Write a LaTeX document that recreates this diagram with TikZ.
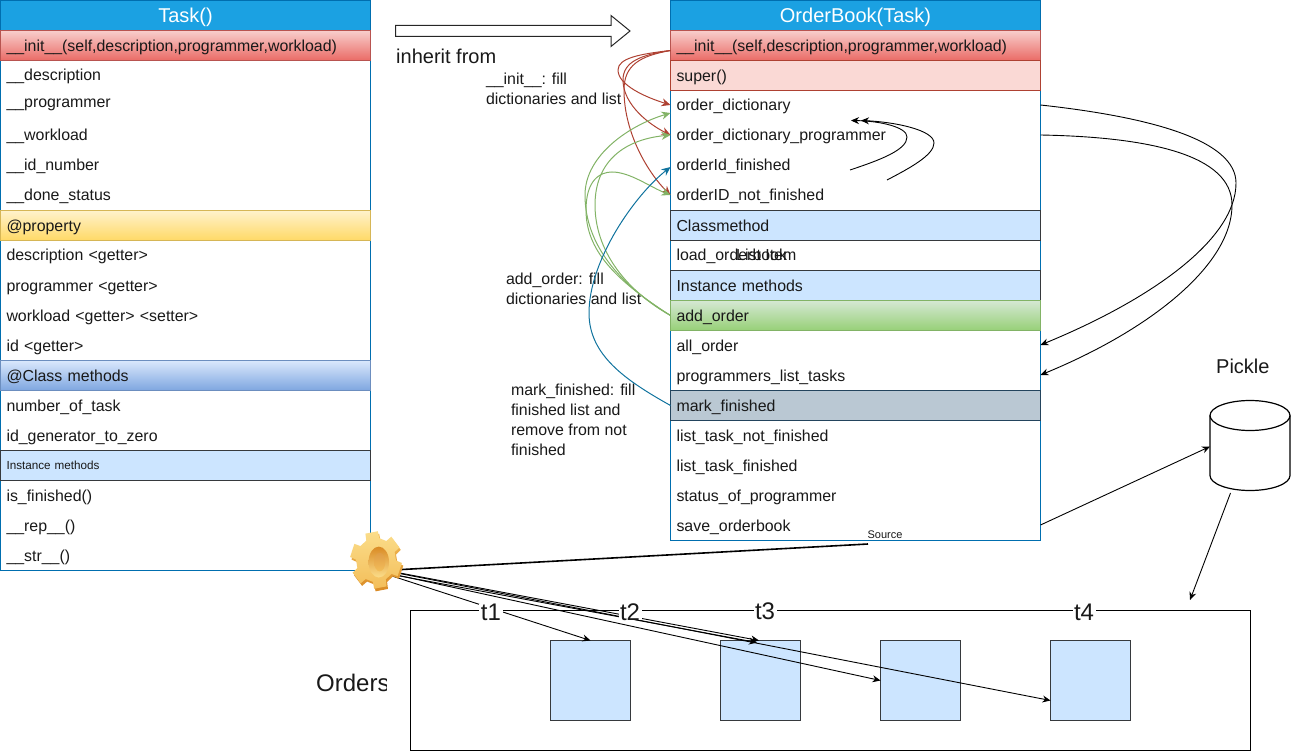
\documentclass[tikz,border=0pt]{standalone}
\usepackage{fontspec}
\setmainfont{Liberation Sans}
\usetikzlibrary{arrows.meta,calc}
\definecolor{hdfill}{HTML}{1BA1E2}
\definecolor{hdline}{HTML}{006EAF}
\definecolor{redtop}{HTML}{F8CECC}
\definecolor{redbot}{HTML}{EA6B66}
\definecolor{redline}{HTML}{B85450}
\definecolor{superfill}{HTML}{FAD9D5}
\definecolor{superline}{HTML}{AE4132}
\definecolor{yeltop}{HTML}{FFF2CC}
\definecolor{yelbot}{HTML}{FFD966}
\definecolor{yelline}{HTML}{D6B656}
\definecolor{blutop}{HTML}{DAE8FC}
\definecolor{blubot}{HTML}{7EA6E0}
\definecolor{bluline}{HTML}{6C8EBF}
\definecolor{instfill}{HTML}{CCE5FF}
\definecolor{instline}{HTML}{36393D}
\definecolor{grntop}{HTML}{D5E8D4}
\definecolor{grnbot}{HTML}{97D077}
\definecolor{grnline}{HTML}{82B366}
\definecolor{markfill}{HTML}{BAC8D3}
\definecolor{markline}{HTML}{23445D}
\definecolor{tealarrow}{HTML}{10739E}
\definecolor{gearlight}{HTML}{FBDD8A}
\definecolor{gearmid}{HTML}{F3BE5A}
\definecolor{geardark}{HTML}{D98A24}
\tikzset{
  rowbox/.style={anchor=north west,minimum width=370,minimum height=#1,text width=358,inner xsep=6,inner ysep=0,outer sep=0,align=left,font=\fontsize{15.9}{18}\selectfont,text=black!90,text height=13.5,text depth=1.5},
  rowbox/.default=30,
  outerbox/.style={draw=hdline,fill=white,line width=.8,anchor=north west,minimum width=370,outer sep=0,inner sep=0},
  head/.style={rowbox=30,draw=hdline,fill=hdfill,line width=.8,text=white,align=center,font=\fontsize{20}{22}\selectfont,text height=14.5,text depth=.5},
  initrow/.style={rowbox=30,draw=redline,top color=redtop,bottom color=redbot,line width=.8},
  superrow/.style={rowbox=30,draw=superline,fill=superfill,line width=.8},
  proprow/.style={rowbox=30,draw=yelline,top color=yeltop,bottom color=yelbot,line width=.8},
  classrow/.style={rowbox=30,draw=bluline,top color=blutop,bottom color=blubot,line width=.8},
  instrow/.style={rowbox=30,draw=instline,fill=instfill,line width=.8},
  addrow/.style={rowbox=30,draw=grnline,top color=grntop,bottom color=grnbot,line width=.8},
  markrow/.style={rowbox=30,draw=markline,fill=markfill,line width=.8},
  note/.style={anchor=north west,inner sep=0,outer sep=0,align=left,font=\fontsize{15.9}{20}\selectfont,text=black!90},
  bigtext/.style={inner sep=0,font=\fontsize{20}{22}\selectfont,text=black!90},
  tlabel/.style={fill=white,inner xsep=1.5,inner ysep=0,font=\fontsize{24}{26}\selectfont,text=black!90},
  slot/.style={draw=instline,fill=instfill,line width=.9,anchor=north west,minimum width=80,minimum height=80,inner sep=0,outer sep=0},
  arr/.style={-{Stealth[length=8,width=7]},line width=.9,black},
  redarr/.style={-{Stealth[length=9,width=8]},line width=1,superline},
  grnarr/.style={-{Stealth[length=9,width=8]},line width=1,grnline},
  bluarr/.style={-{Stealth[length=9,width=8]},line width=1,tealarrow},
}
\begin{document}
\begin{tikzpicture}[x=1pt,y=-1pt]
\useasboundingbox (0,0) rectangle (1292,751);
% Orders box
\node[draw=black,line width=.9,anchor=north west,minimum width=840,minimum height=140,inner sep=0,outer sep=0] (orders) at (410.5,610.5) {};
\begin{scope}
\clip (310,660) rectangle (386,710);
\node[inner sep=0,font=\fontsize{24}{26}\selectfont,text=black!90,anchor=west] (orderslabel) at (316,683) {Orders};
\end{scope}
\node[slot] (s1) at (550.5,640.5) {};
\node[slot] (s2) at (720.5,640.5) {};
\node[slot] (s3) at (880.5,640.5) {};
\node[slot] (s4) at (1050.5,640.5) {};
% Task class
\node[outerbox,minimum height=570] (taskbox) at (.5,.5) {};
\node[head] (taskhead) at (.5,.5) {Task()};
\node[initrow] (taskinit) at (.5,30.5) {\_\_init\_\_(self,description,programmer,workload)};
\node[rowbox] (t-desc) at (.5,60) {\_\_description};
\node[rowbox] (t-prog) at (.5,87) {\_\_programmer};
\node[rowbox] (t-work) at (.5,120) {\_\_workload};
\node[rowbox] (t-id) at (.5,150) {\_\_id\_number};
\node[rowbox] (t-done) at (.5,180) {\_\_done\_status};
\node[proprow] (t-property) at (.5,210.5) {@property};
\node[rowbox] (t-g1) at (.5,240) {description <getter>};
\node[rowbox] (t-g2) at (.5,270) {programmer <getter>};
\node[rowbox] (t-g3) at (.5,300) {workload <getter> <setter>};
\node[rowbox] (t-g4) at (.5,330) {id <getter>};
\node[classrow] (t-class) at (.5,360.5) {@Class methods};
\node[rowbox] (t-c1) at (.5,390) {number\_of\_task};
\node[rowbox] (t-c2) at (.5,420) {id\_generator\_to\_zero};
\node[instrow,font=\fontsize{11.7}{13}\selectfont,text height=9.5,text depth=2] (t-inst) at (.5,450.5) {Instance methods};
\node[rowbox] (t-i1) at (.5,480) {is\_finished()};
\node[rowbox] (t-i2) at (.5,510) {\_\_rep\_\_()};
\node[rowbox] (t-i3) at (.5,540) {\_\_str\_\_()};
% OrderBook class
\node[outerbox,minimum height=540] (obbox) at (670.5,.5) {};
\node[head] (obhead) at (670.5,.5) {OrderBook(Task)};
\node[initrow] (obinit) at (670.5,30.5) {\_\_init\_\_(self,description,programmer,workload)};
\node[superrow] (obsuper) at (670.5,60.5) {super()};
\node[rowbox] (odict) at (670.5,90) {order\_dictionary};
\node[rowbox] (odictp) at (670.5,120) {order\_dictionary\_programmer};
\node[rowbox] (ofin) at (670.5,150) {orderId\_finished};
\node[rowbox] (onot) at (670.5,180) {orderID\_not\_finished};
\node[instrow] (oclass) at (670.5,210.5) {Classmethod};
\node[rowbox] (oload) at (670.5,240) {load\_orderbook};
\node[inner sep=0,anchor=west,font=\fontsize{15.9}{18}\selectfont,text=black!90,text height=13.5,text depth=1.5] (olist) at (736,255) {List Item};
\node[instrow] (oinst) at (670.5,270.5) {Instance methods};
\node[addrow] (oadd) at (670.5,300.5) {add\_order};
\node[rowbox] (oall) at (670.5,330) {all\_order};
\node[rowbox] (oprog) at (670.5,360) {programmers\_list\_tasks};
\node[markrow] (omark) at (670.5,390.5) {mark\_finished};
\node[rowbox] (onf) at (670.5,420) {list\_task\_not\_finished};
\node[rowbox] (ofi) at (670.5,450) {list\_task\_finished};
\node[rowbox] (ostatus) at (670.5,480) {status\_of\_programmer};
\node[rowbox] (osave) at (670.5,510) {save\_orderbook};
% Block arrow
\coordinate (inhfrom) at (395.5,25.5);
\draw[line width=1,black!85] (inhfrom) -- ++(215.5,0) -- ++(0,-10) -- ++(19,15.5) -- ++(-19,15.5) -- ++(0,-10) -- ++(-215.5,0) -- cycle;
% Text labels
\node[bigtext,anchor=west] (inhlabel) at (396,56) {inherit from};
\node[note] (n1) at (486,73) {\_\_init\_\_: fill\\dictionaries and list};
\node[note] (n2) at (506,273) {add\_order: fill\\dictionaries and list};
\node[note] (n3) at (511,384) {mark\_finished: fill\\finished list and\\remove from not\\finished};
\node[bigtext,anchor=west] (pickle) at (1216,366) {Pickle};
% Red arrows
\coordinate (initout) at ($(obinit.west)+(0,5)$);
\draw[redarr] (initout) .. controls (640,54) and (618,58) .. (618,70) .. controls (618,85) and (645,97) .. (odict.west);
\draw[redarr] (initout) .. controls (640,55) and (623,62) .. (623,80) .. controls (623,105) and (650,125) .. (odictp.west);
\draw[redarr] (initout) .. controls (640,56) and (624,65) .. (624,90) .. controls (624,135) and (650,175) .. (onot.west);
% Green arrows
\draw[grnarr] (oadd.west) .. controls (620,285) and (585,245) .. (585,195) .. controls (585,155) and (630,125) .. ($(odict.west)+(0,8)$);
\draw[grnarr] (oadd.west) .. controls (625,290) and (595,250) .. (595,205) .. controls (595,165) and (620,140) .. (odictp.west);
\draw[grnarr] (oadd.west) .. controls (615,280) and (586,250) .. (586,210) .. controls (586,180) and (600,172) .. (612,172) .. controls (630,172) and (650,187) .. (onot.west);
% Blue arrow
\draw[bluarr] (omark.west) .. controls (625,380) and (589,355) .. (589,313) .. controls (589,260) and (635,195) .. ($(ofin.west)+(0,2)$);
% Inner black curves
\coordinate (c1a) at (850,170);
\coordinate (c1b) at (851,120.5);
\coordinate (c2a) at (887,180);
\coordinate (c2b) at (861,120.5);
\draw[arr] (c1a) .. controls (880,160) and (907,150) .. (907,137) .. controls (907,127) and (880,121) .. (c1b);
\draw[arr] (c2a) .. controls (910,168) and (934,155) .. (934,143) .. controls (934,130) and (895,122) .. (c2b);
% Right curves
\draw[arr] (odict.east) .. controls (1150,117) and (1236,140) .. (1236,183) .. controls (1236,240) and (1150,300) .. (oall.east);
\draw[arr] (odictp.east) .. controls (1150,137) and (1232,155) .. (1232,205) .. controls (1232,265) and (1150,330) .. (oprog.east);
% Cylinder
\node[minimum width=80,minimum height=90,inner sep=0,outer sep=0,anchor=north west] (db) at (1210,400.5) {};
\draw[line width=1.2,black,fill=white] ($(db.north west)+(0,15)$) arc[start angle=180,end angle=360,x radius=40,y radius=15] -- ++(0,60) arc[start angle=0,end angle=180,x radius=40,y radius=15] -- cycle;
\draw[line width=1.2,black] ($(db.north west)+(0,15)$) arc[start angle=180,end angle=0,x radius=40,y radius=15];
\coordinate (dbout) at (1230.5,493);
\coordinate (dbin) at (1190,600);
\draw[arr] (osave.east) -- ($(db.west)+(0,1)$);
\draw[arr] (dbout) -- (dbin);
% Gear connectors
\coordinate (gear) at (376,560);
\coordinate (srcend) at (868,544);
\draw[line width=1.6,black] (393,570) -- (srcend);
\coordinate (g1) at (392,574);
\coordinate (g2) at (392,571.5);
\coordinate (g3) at (392,574.5);
\coordinate (g4) at (392,576);
\coordinate (g5) at (392,572);
\draw[arr] (g4) -- (s1.north);
\draw[arr] (g2) -- (759,640.5);
\draw[arr] (g3) -- (757,642.5);
\draw[arr] (g1) -- (s3.west);
\draw[arr] (g5) -- ($(s4.north west)+(0,60)$);
\node[fill=white,inner xsep=1,inner ysep=1,font=\fontsize{11}{12}\selectfont,text=black!90] (source) at (885,535) {Source};
% Gear
\begin{scope}[shift={(gear)},xscale=.93,yscale=1.03]
\foreach \dx/\dy/\cola/\colb in {1.5/2.5/gearmid/geardark,0/0/gearlight/gearmid} {
  \shade[top color=\cola,bottom color=\colb,shift={(\dx,\dy)}]
    (20-14:28) -- (20+14:28)
    -- (50-11:21.5) -- (50+11:21.5)
    -- (80-14:28) -- (80+14:28)
    -- (110-11:21.5) -- (110+11:21.5)
    -- (140-14:28) -- (140+14:28)
    -- (170-11:21.5) -- (170+11:21.5)
    -- (200-14:28) -- (200+14:28)
    -- (230-11:21.5) -- (230+11:21.5)
    -- (260-14:28) -- (260+14:28)
    -- (290-11:21.5) -- (290+11:21.5)
    -- (320-14:28) -- (320+14:28)
    -- (350-11:21.5) -- (350+11:21.5) -- cycle;
}
\shade[top color=geardark,bottom color=gearlight] (3,2) ellipse[x radius=11,y radius=15];
\shade[top color=geardark!85,bottom color=gearmid] (4,2) ellipse[x radius=6,y radius=9];
\end{scope}
% t labels
\node[tlabel] (t1) at (491,612) {t1};
\node[tlabel] (t2) at (630,612) {t2};
\node[tlabel] (t3) at (765,611) {t3};
\node[tlabel] (t4) at (1084,612) {t4};
\end{tikzpicture}
\end{document}
